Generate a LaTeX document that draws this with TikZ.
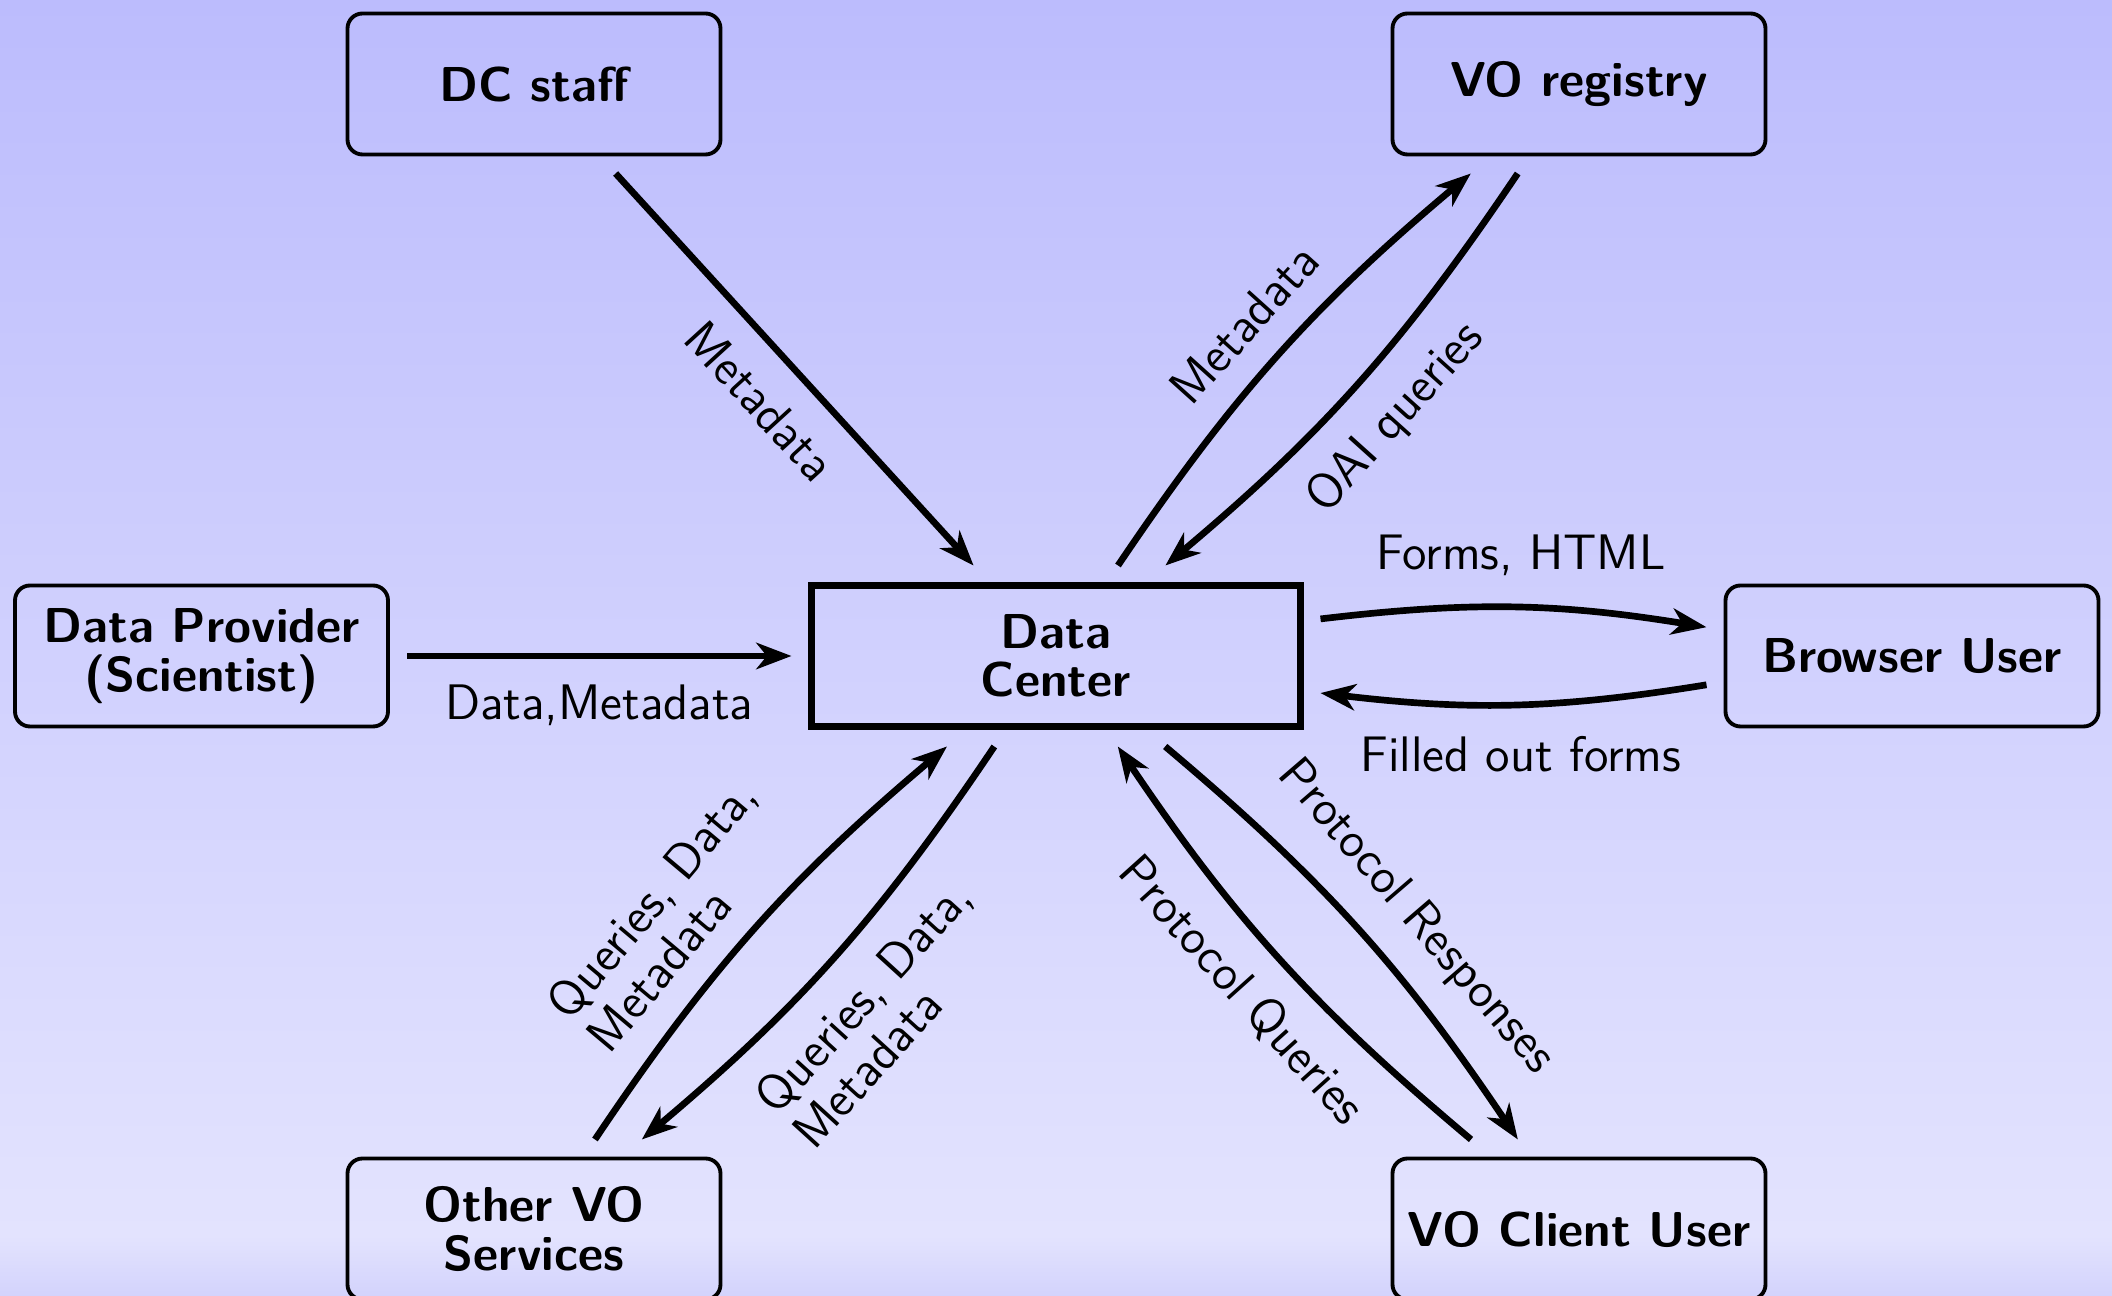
\documentclass[tikz,border=0pt]{standalone}
\usetikzlibrary{arrows.meta}
\definecolor{bgtop}{RGB}{188,188,253}
\definecolor{bgmid}{RGB}{227,227,254}
\definecolor{bgbot}{RGB}{211,211,252}
\begin{document}
\begin{tikzpicture}[
  txt/.style={font=\sffamily\fontsize{14.2pt}{14.6pt}\selectfont},
  bold/.style={font=\sffamily\bfseries\fontsize{13.95pt}{13.8pt}\selectfont},
  box/.style={bold, draw, line width=1.1pt, rounded corners=0.15cm,
    minimum width=3.73cm, minimum height=1.41cm, align=center,
    inner sep=0pt, outer sep=0.19cm},
  centerbox/.style={bold, draw, line width=2.1pt,
    minimum width=4.89cm, minimum height=1.41cm, align=center,
    inner sep=0pt, outer sep=0.2cm},
  flow/.style={line width=1.9pt, -{Stealth[length=10pt,width=7.5pt,inset=3pt]}},
  lab/.style={txt, midway, inner sep=0.1cm, outer sep=0.19cm, align=center},
  slab/.style={lab, sloped},
  twolab/.style={slab, align=left}
]
\useasboundingbox (0,0) rectangle (21.12,12.96);
\shade[bottom color=bgmid, top color=bgtop] (0,0.6) rectangle (21.12,12.96);
\shade[bottom color=bgbot, top color=bgmid] (0,0) rectangle (21.12,0.6);

\node[box] (dcs) at (5.34,12.12) {DC staff};
\node[box] (vor) at (15.79,12.12) {VO registry};
\node[box] (dp) at (2.015,6.40) {Data Provider\\(Scientist)};
\node[centerbox] (dc) at (10.56,6.40) {Data\\Center};
\node[box] (bu) at (19.12,6.40) {Browser User};
\node[box] (ovo) at (5.34,0.67) {Other VO\\Services};
\node[box] (voc) at (15.79,0.67) {VO Client User};

\draw[flow] (dcs) -- node[slab, below] {Metadata} (dc);
\draw[flow] (dc) to[bend left=8] node[slab, above] {Metadata} (vor);
\draw[flow] (vor) to[bend left=8] node[slab, below] {OAI queries} (dc);
\draw[flow] (dc) to[bend left=8] node[lab, above, pos=0.52, outer sep=0.22cm] {Forms, HTML} (bu);
\draw[flow] (bu) to[bend left=8] node[lab, below, pos=0.48, outer sep=0.22cm] {Filled out forms} (dc);
\draw[flow] (dp) -- node[lab, below] {Data,Metadata} (dc);
\draw[flow] (ovo) to[bend left=8] node[twolab, above, pos=0.41] {Queries, Data,\\Metadata} (dc);
\draw[flow] (dc) to[bend left=8] node[twolab, below, pos=0.52] {Queries, Data,\\Metadata} (ovo);
\draw[flow] (voc) to[bend left=8] node[slab, below] {Protocol Queries} (dc);
\draw[flow] (dc) to[bend left=8] node[slab, above, pos=0.56] {Protocol Responses} (voc);
\end{tikzpicture}
\end{document}
